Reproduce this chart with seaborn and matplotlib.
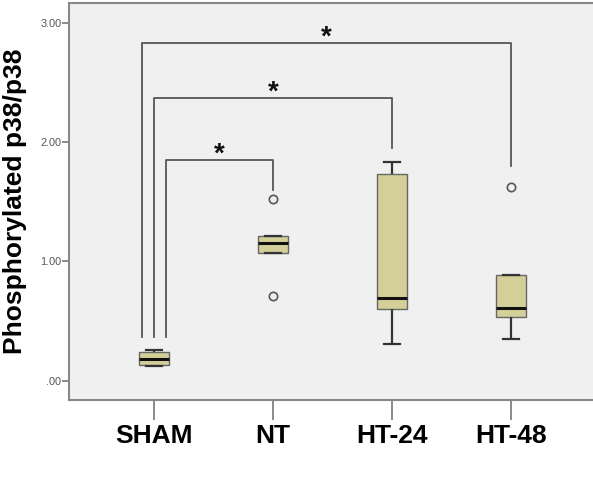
import seaborn as sns
import matplotlib.pyplot as plt
import pandas as pd

groups = ["SHAM", "NT", "HT-24", "HT-48"]
sham = [0.12, 0.13, 0.18, 0.24, 0.26]
nt = [0.71, 1.07, 1.157, 1.21, 1.525]
ht24 = [0.31, 0.60, 0.69, 1.73, 1.83]
ht48 = [0.346, 0.53, 0.605, 0.884, 1.62]

# significance brackets: SHAM vs each group
pairs = [("SHAM", "NT"), ("SHAM", "HT-24"), ("SHAM", "HT-48")]
bracket_top = [1.85, 2.37, 2.83]
right_leg_end = [1.60, 1.95, 1.80]
left_leg_end = 0.37
yticks = [0, 1, 2, 3]
ytick_labels = [".00", "1.00", "2.00", "3.00"]

df = pd.DataFrame({
    "group": ["SHAM"] * len(sham) + ["NT"] * len(nt) + ["HT-24"] * len(ht24) + ["HT-48"] * len(ht48),
    "value": sham + nt + ht24 + ht48,
})

plt.rcParams["font.family"] = ["Liberation Sans", "DejaVu Sans"]
fig = plt.figure(figsize=(5.93, 4.83), dpi=100)
ax = fig.add_axes([0.1164, 0.1718, 0.8836, 0.8220])
ax.set_facecolor("#f0f0f0")

sns.boxplot(
    data=df, x="group", y="value", order=groups, ax=ax,
    color="#d4cf99", saturation=1.0, width=0.26,
    boxprops={"edgecolor": "#666666", "linewidth": 1.0},
    medianprops={"color": "#111111", "linewidth": 2.2},
    whiskerprops={"color": "#333333", "linewidth": 1.6},
    capprops={"color": "#333333", "linewidth": 1.6},
    flierprops={"marker": "o", "markerfacecolor": "none", "markeredgecolor": "#555555",
                "markersize": 6, "markeredgewidth": 1.2},
)

offsets = [0.1, 0.0, -0.1]
for (a, b), top, rend, off in zip(pairs, bracket_top, right_leg_end, offsets):
    xa = groups.index(a) + off
    xb = groups.index(b)
    ax.plot([xa, xa, xb, xb], [left_leg_end, top, top, rend], color="#555555", lw=1.3)
    ax.text((xa + xb) / 2, top - 0.065, "*", ha="center", va="bottom",
            fontsize=20, fontweight="bold", color="#111111")

ax.set_xlim(-0.714, 3.689)
ax.set_ylim(-0.162, 3.165)
ax.set_yticks(yticks)
ax.set_yticklabels(ytick_labels)
ax.set_xlabel("")
ax.set_ylabel("")
ax.tick_params(axis="y", length=5, width=1.2, color="#777777", labelsize=7.8,
               labelcolor="#555555", pad=0.5)
ax.tick_params(axis="x", length=14.4, width=1.2, color="#777777", labelsize=19, pad=3)
for lab in ax.get_xticklabels():
    lab.set_fontweight("bold")
for side in ["left", "bottom", "top"]:
    ax.spines[side].set_color("#888888")
    ax.spines[side].set_linewidth(1.5)
ax.spines["right"].set_visible(False)

fig.text(0.026, 0.583, "Phosphorylated p38/p38", rotation=90, ha="center", va="center",
         fontsize=19, fontweight="bold")

fig.savefig("out.png", dpi=100)
